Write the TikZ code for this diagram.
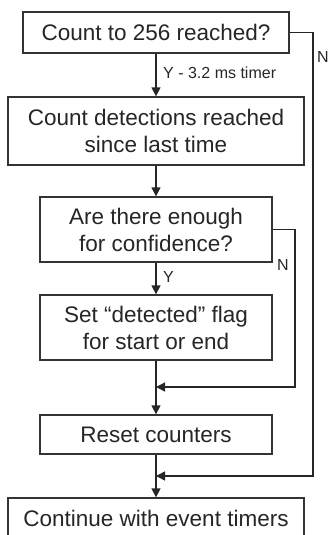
\documentclass[tikz,border=0pt]{standalone}
\usepackage{fontspec}
\setmainfont{Liberation Sans}
\usetikzlibrary{arrows.meta}
\begin{document}
\begin{tikzpicture}[x=1pt,y=-1pt,
 box/.style={draw=black!80, line width=1.3pt, fill=white, inner sep=0pt, align=center, font=\fontsize{22.5}{27}\selectfont, text=black!85},
 lbl/.style={font=\fontsize{16}{19}\selectfont, inner sep=0pt, anchor=west, text=black!85},
 conn/.style={draw=black!85, line width=1.3pt},
 arr/.style={conn, -{Triangle[length=9pt,width=9pt]}}]
\useasboundingbox (0,0) rectangle (328,535);
\clip (0,0) rectangle (328,535);
\node[box, minimum width=266pt, minimum height=41pt] (b1) at (156,32.5) {Count to 256 reached?};
\node[box, minimum width=296pt, minimum height=68pt] (b2) at (156,131) {Count detections reached\\since last time};
\node[box, minimum width=232pt, minimum height=65pt] (b3) at (156,229.5) {Are there enough\\for confidence?};
\node[box, minimum width=232pt, minimum height=65pt] (b4) at (156,327.5) {Set “detected” flag\\for start or end};
\node[box, minimum width=232pt, minimum height=39pt] (b5) at (156,434.5) {Reset counters};
\node[box, minimum width=296pt, minimum height=40pt] (b6) at (156,518) {Continue with event timers};
\coordinate (n1) at (295,229.5);
\coordinate (j1) at (156,387);
\coordinate (n2) at (313,32.5);
\coordinate (j2) at (156,476);
\draw[arr] (b1) -- (b2);
\draw[arr] (b2) -- (b3);
\draw[arr] (b3) -- (b4);
\draw[arr] (b4) -- (b5);
\draw[arr] (b5) -- (b6);
\draw[arr] (b3.east) -- (n1) |- (j1);
\draw[arr] (b1.east) -- (n2) |- (j2);
\node[lbl] (ly1) at (163,73) {Y - 3.2 ms timer};
\node[lbl] (ln1) at (317,57) {N};
\node[lbl] (ln2) at (277,265) {N};
\node[lbl] (ly2) at (163,277) {Y};
\end{tikzpicture}
\end{document}
